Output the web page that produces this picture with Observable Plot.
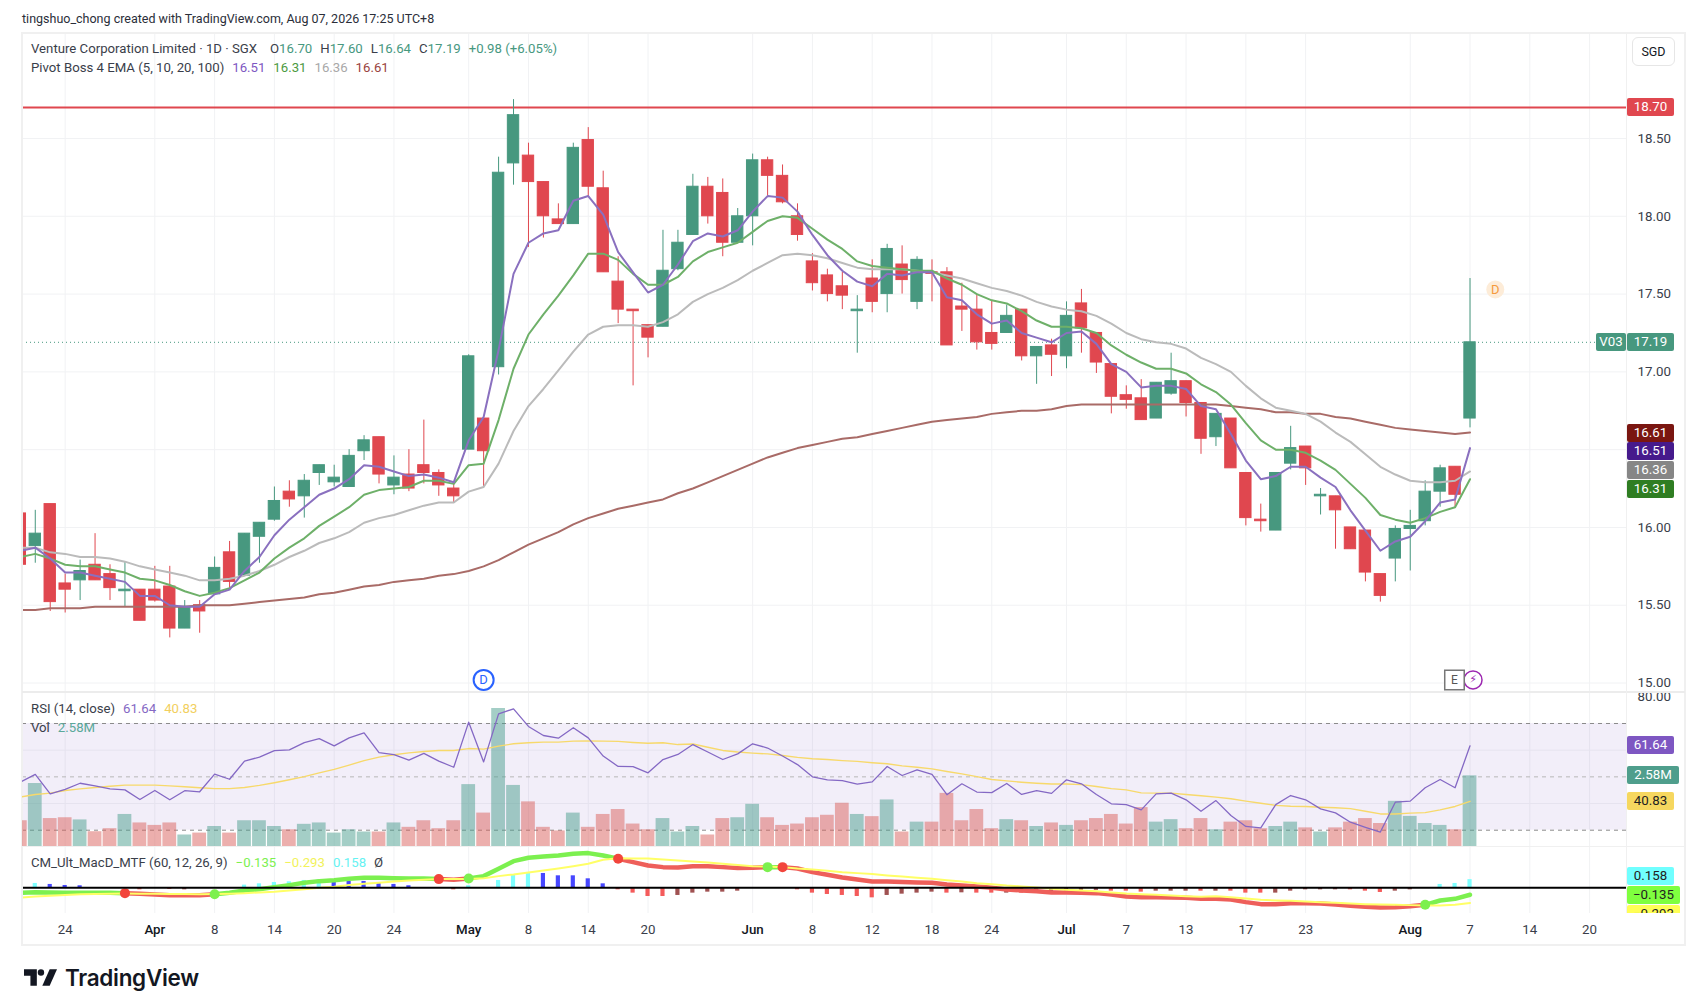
<!DOCTYPE html>
<html><head><meta charset="utf-8">
<script src="https://cdn.jsdelivr.net/npm/d3@7"></script>
<script src="https://cdn.jsdelivr.net/npm/@observablehq/plot@0.6"></script>
<style>
html,body{margin:0;background:#fff;}
#stage{position:relative;width:1708px;height:1006px;overflow:hidden;font-family:Roboto,sans-serif;color:#131722;}
#stage > svg{position:absolute;left:0;overflow:visible;}
.abs{position:absolute;white-space:nowrap;}
.leg{font-size:13.2px;line-height:16px;color:#3a3e4a;}
.leg span{margin-left:8px;}
.leg span.n{margin-left:0;}
.leg span.o{margin-left:13px;}
.tag{position:absolute;text-align:center;font-size:13.3px;line-height:18px;height:18px;border-radius:2px;}
</style></head><body><div id="stage"></div>
<script>
const opens=[16.09,15.88,16.15,15.64,15.66,15.76,15.70,15.59,15.60,15.60,15.62,15.35,15.50,15.57,15.84,15.69,15.94,16.05,16.23,16.20,16.35,16.29,16.26,16.49,16.58,16.27,16.34,16.40,16.35,16.25,16.50,16.70,17.03,18.34,18.39,18.22,17.98,17.95,18.49,18.18,17.58,17.40,17.30,17.29,17.66,17.88,18.19,18.15,17.83,18.00,18.36,18.26,18.00,17.71,17.62,17.55,17.39,17.60,17.50,17.69,17.45,17.64,17.64,17.42,17.40,17.25,17.25,17.40,17.10,17.17,17.10,17.44,17.25,17.05,16.85,16.83,16.70,16.86,16.94,16.80,16.58,16.70,16.35,16.05,15.98,16.41,16.52,16.20,16.20,16.00,15.98,15.70,15.80,15.99,16.04,16.23,16.39,16.70];
const closes=[15.76,15.96,15.52,15.60,15.72,15.66,15.61,15.60,15.40,15.53,15.35,15.49,15.46,15.74,15.65,15.96,16.03,16.17,16.18,16.30,16.40,16.32,16.46,16.56,16.34,16.32,16.25,16.35,16.27,16.20,17.10,16.49,18.28,18.65,18.22,18.00,17.95,18.44,18.19,17.64,17.40,17.39,17.22,17.65,17.83,18.19,18.00,17.83,18.00,18.36,18.26,18.09,17.88,17.57,17.50,17.49,17.40,17.45,17.79,17.59,17.72,17.63,17.17,17.40,17.19,17.18,17.36,17.10,17.16,17.11,17.36,17.28,17.06,16.84,16.82,16.69,16.93,16.94,16.80,16.57,16.73,16.38,16.06,16.04,16.35,16.51,16.38,16.21,16.11,15.86,15.71,15.56,15.99,16.01,16.23,16.38,16.21,17.19];
const highs=[16.09,16.11,16.15,15.70,15.79,15.96,15.76,15.78,15.60,15.75,15.75,15.53,15.53,15.81,15.91,15.96,16.03,16.26,16.30,16.34,16.40,16.40,16.50,16.59,16.58,16.46,16.50,16.69,16.37,16.28,17.11,16.70,18.38,18.75,18.47,18.22,18.08,18.47,18.57,18.29,17.74,17.40,17.30,17.91,17.91,18.27,18.25,18.24,18.05,18.40,18.38,18.33,18.08,17.76,17.66,17.64,17.49,17.72,17.82,17.81,17.74,17.72,17.67,17.57,17.50,17.46,17.43,17.40,17.16,17.21,17.45,17.53,17.25,17.05,16.91,16.95,16.93,17.12,16.94,16.80,16.73,16.70,16.35,16.15,16.35,16.65,16.52,16.25,16.20,16.00,15.98,15.70,16.01,16.11,16.30,16.40,16.39,17.60];
const lows=[15.76,15.77,15.46,15.45,15.53,15.66,15.53,15.49,15.40,15.52,15.29,15.35,15.32,15.57,15.61,15.69,15.77,16.04,16.13,16.06,16.27,16.26,16.26,16.43,16.28,16.21,16.23,16.28,16.20,16.16,16.50,16.26,16.98,18.20,17.80,17.86,17.95,17.95,18.12,17.64,17.31,16.91,17.09,17.29,17.65,17.88,17.95,17.74,17.83,17.81,18.13,18.08,17.84,17.52,17.45,17.40,17.12,17.38,17.38,17.50,17.40,17.45,17.17,17.26,17.14,17.14,17.25,17.07,16.92,16.97,17.02,17.12,16.99,16.73,16.76,16.69,16.70,16.85,16.71,16.47,16.52,16.38,16.01,15.97,15.98,16.37,16.27,16.08,15.86,15.86,15.65,15.52,15.65,15.72,16.01,16.13,16.13,16.64];
const ema5=[15.85,15.87,15.80,15.71,15.71,15.69,15.67,15.65,15.56,15.56,15.50,15.49,15.49,15.57,15.60,15.72,15.81,15.95,16.05,16.13,16.21,16.25,16.31,16.40,16.39,16.36,16.33,16.34,16.32,16.29,16.56,16.71,17.14,17.63,17.83,17.89,17.91,18.10,18.13,18.01,17.77,17.64,17.51,17.56,17.69,17.84,17.89,17.87,17.91,18.03,18.13,18.12,18.03,17.88,17.75,17.65,17.58,17.55,17.63,17.62,17.64,17.64,17.48,17.46,17.37,17.31,17.33,17.25,17.22,17.19,17.25,17.26,17.18,17.05,17.00,16.90,16.91,16.91,16.89,16.78,16.76,16.60,16.43,16.31,16.33,16.39,16.39,16.32,16.26,16.11,15.98,15.85,15.91,15.94,16.04,16.16,16.18,16.51];
const ema10=[15.81,15.83,15.80,15.76,15.75,15.75,15.73,15.71,15.67,15.66,15.63,15.59,15.56,15.58,15.61,15.66,15.71,15.80,15.87,15.93,16.01,16.07,16.13,16.21,16.24,16.25,16.26,16.30,16.30,16.28,16.40,16.41,16.69,17.02,17.24,17.37,17.49,17.62,17.76,17.76,17.72,17.63,17.56,17.56,17.61,17.71,17.77,17.80,17.83,17.90,17.97,18.00,17.99,17.92,17.85,17.79,17.71,17.68,17.67,17.66,17.65,17.65,17.60,17.56,17.50,17.46,17.44,17.39,17.33,17.29,17.29,17.28,17.25,17.17,17.11,17.06,17.02,17.02,16.99,16.92,16.87,16.79,16.67,16.56,16.50,16.50,16.48,16.43,16.37,16.28,16.19,16.08,16.05,16.03,16.06,16.10,16.13,16.31];
const ema20=[15.87,15.87,15.84,15.83,15.81,15.81,15.80,15.78,15.75,15.73,15.71,15.69,15.66,15.66,15.67,15.69,15.72,15.76,15.81,15.85,15.90,15.93,15.97,16.03,16.06,16.08,16.11,16.14,16.16,16.16,16.23,16.26,16.41,16.62,16.78,16.89,17.01,17.13,17.24,17.29,17.30,17.30,17.29,17.32,17.37,17.45,17.50,17.54,17.59,17.65,17.70,17.75,17.76,17.75,17.73,17.70,17.67,17.66,17.66,17.66,17.65,17.64,17.62,17.60,17.57,17.54,17.52,17.49,17.45,17.42,17.40,17.39,17.36,17.31,17.25,17.21,17.19,17.18,17.15,17.09,17.05,17.00,16.91,16.83,16.77,16.75,16.73,16.68,16.61,16.55,16.47,16.39,16.34,16.30,16.29,16.29,16.30,16.36];
const ema100=[15.47,15.47,15.48,15.48,15.48,15.49,15.49,15.49,15.49,15.49,15.49,15.49,15.50,15.50,15.50,15.51,15.52,15.53,15.54,15.55,15.57,15.58,15.60,15.62,15.63,15.65,15.66,15.67,15.69,15.70,15.72,15.75,15.79,15.84,15.89,15.93,15.97,16.02,16.06,16.09,16.12,16.14,16.16,16.18,16.22,16.25,16.29,16.33,16.37,16.41,16.45,16.48,16.51,16.53,16.55,16.57,16.58,16.60,16.62,16.64,16.66,16.68,16.69,16.70,16.71,16.73,16.74,16.75,16.75,16.76,16.78,16.79,16.79,16.79,16.79,16.79,16.79,16.79,16.79,16.79,16.79,16.78,16.77,16.76,16.74,16.74,16.73,16.73,16.71,16.70,16.68,16.66,16.64,16.63,16.62,16.61,16.60,16.61];
const rsi=[48,50.9,43.6,45.3,47.6,46.6,45.5,45.1,41.5,44.9,41.4,44.8,44.4,51,49.1,55.9,57.4,59.8,60.1,62.8,64.3,61.6,64.6,66.5,59.1,58.3,56.3,58.8,55.9,53.6,70.5,55.6,73.6,75.5,68.9,65.5,64.5,68.4,64.6,57.8,53.9,53.8,51.5,56.5,58.4,62.1,59.3,56.5,58.6,62.4,60.8,57.8,54.6,50,48.9,48.6,47.3,48.1,53.9,50.5,52.6,50.9,43.3,47.4,44.3,44.1,47.5,43.4,44.8,43.8,48.9,47.4,43.4,39.9,39.6,37.6,43.6,43.9,41.4,37.1,41.1,35.5,31.4,30.9,39.6,43,41.4,38,36.5,33,31.1,29.3,40.5,40.9,45.9,49,45.9,61.64];
const rsiMa=[42.4,43.4,43.9,44.9,45.5,46,46.5,46.9,46.9,46.9,46.6,46.3,45.9,45.6,45.6,46,46.8,47.8,48.9,50.1,51.5,52.8,54.4,56.1,57.4,58.3,59,59.5,59.9,59.9,60.6,60.4,61.5,62.4,62.8,63,63,63.4,63.5,63.4,63.3,62.9,62.6,62.8,62.1,62.3,61.1,59.9,59.3,58.9,58.6,58,57.3,56.8,56.5,56.1,55.8,55.3,54.9,54.1,53.6,53,52,51.1,50.1,49,48.5,48,47.6,47.3,47.3,47.1,46.4,45.6,45.1,44,43.9,43.9,43.4,42.9,42.4,41.8,40.9,40.1,39.3,39,38.9,38.6,38.4,38.1,37.1,36.1,36.1,36.4,36.6,37.6,38.9,40.83];
const volume=[0.94,2.30,1.02,1.05,0.97,0.54,0.65,1.17,0.86,0.77,0.86,0.42,0.49,0.73,0.49,0.94,0.94,0.73,0.61,0.81,0.86,0.49,0.61,0.53,0.53,0.86,0.70,0.94,0.65,0.94,2.26,1.22,5.04,2.23,1.63,0.70,0.57,1.22,0.70,1.17,1.35,0.82,0.61,1.02,0.53,0.73,0.42,1.02,1.05,1.54,1.05,0.77,0.82,1.05,1.14,1.58,1.17,1.09,1.70,0.53,0.89,0.89,1.94,0.94,1.35,0.65,0.98,0.94,0.73,0.86,0.77,0.94,1.02,1.17,0.82,1.42,0.89,0.98,0.65,1.02,0.61,0.89,0.94,0.65,0.73,0.89,0.68,0.53,0.68,0.89,1.02,0.84,1.65,1.10,0.84,0.77,0.61,2.58];
const macd=[-.097,-.084,-.09,-.097,-.097,-.097,-.097,-.103,-.116,-.129,-.142,-.142,-.142,-.123,-.097,-.052,-.026,.013,.052,.097,.129,.148,.174,.194,.194,.187,.181,.181,.168,.155,.181,.226,.368,.516,.581,.606,.626,.658,.671,.626,.561,.497,.432,.4,.394,.419,.419,.4,.381,.387,.4,.4,.374,.303,.252,.2,.161,.123,.123,.11,.103,.097,.065,.045,.026,0,-.032,-.052,-.065,-.09,-.09,-.097,-.103,-.129,-.168,-.181,-.181,-.187,-.194,-.213,-.213,-.226,-.277,-.316,-.316,-.297,-.297,-.303,-.323,-.348,-.368,-.381,-.374,-.355,-.329,-.245,-.213,-.135];
const signal=[-.19,-.17,-.155,-.14,-.125,-.12,-.115,-.112,-.113,-.115,-.118,-.122,-.123,-.122,-.115,-.103,-.09,-.077,-.052,-.026,0,.019,.052,.077,.097,.123,.142,.155,.168,.168,.168,.187,.226,.258,.297,.335,.374,.419,.465,.542,.574,.568,.568,.548,.529,.51,.49,.465,.439,.419,.413,.4,.374,.355,.329,.303,.284,.265,.239,.219,.194,.174,.148,.123,.09,.071,.045,.026,.006,-.019,-.039,-.052,-.065,-.09,-.11,-.123,-.135,-.148,-.161,-.174,-.161,-.181,-.206,-.232,-.245,-.252,-.265,-.277,-.29,-.303,-.316,-.323,-.329,-.335,-.342,-.342,-.329,-.293];
const hist=[0,.084,.065,.045,.039,0,0,0,-.039,0,-.032,-.039,0,0,0,.052,.077,.103,.116,.142,.155,.123,.123,.123,.084,.065,.039,0,0,-.039,.039,0,.142,.252,.297,.277,.232,.232,.174,.077,-.039,-.103,-.168,-.168,-.148,-.103,-.084,-.084,-.065,0,0,0,-.039,-.103,-.129,-.148,-.168,-.194,-.148,-.123,-.103,-.084,-.103,-.097,-.103,-.103,-.103,-.103,-.11,-.09,-.065,-.05,-.05,-.065,-.065,-.084,-.065,-.065,-.065,-.065,-.065,-.065,-.103,-.103,-.103,-.065,-.039,-.039,-.039,-.039,-.065,-.09,-.065,-.039,0,.065,.084,.158];
const histKind="xcbbbxxxrxrmxxxccccccbbbbbbxxrcxcccbbbbbrrrrmmmmmxxxrrrrrrmmmmrmrrmrmmmmmrrrmmmrmrrrmmmmmrrrmmxccc";
const macdRuns=[[0,"g"],[7,"r"],[13,"g"],[28,"r"],[30,"g"],[40,"r"],[50,"g"],[51,"r"],[94,"g"]];
const macdDotsRed=[7,28,40,51];
const macdDotsGreen=[13,30,50,94];
const tickIdx=[3,13,17,21,25,34,38,42,53,57,61,65,74,78,82,86,97,101,105];
const tickLbl=["24","8","14","20","24","8","14","20","8","12","18","24","7","13","17","23","7","14","20"];
const monthIdx=[9,30,49,70,93];
const monthLbl=["Apr","May","Jun","Jul","Aug"];
const priceTicks=[15,15.5,16,16.5,17,17.5,18,18.5];
const GREEN="#47987f",RED="#e0474f";
const CURSOR=[...tickIdx,...monthIdx];
if(![closes,highs,lows,ema5,ema10,ema20,ema100,rsi,rsiMa,volume,macd,signal,hist].every(a=>a.length===opens.length)||histKind.length!==opens.length)
  throw new Error("len "+[opens,closes,highs,lows,ema5,ema10,ema20,ema100,rsi,rsiMa,volume,macd,signal,hist].map(a=>a.length)+" "+histKind.length);
const rows=opens.map((o,i)=>({i,o,c:closes[i],h:highs[i],l:lows[i],col:closes[i]>=o?GREEN:RED,
  vol:volume[i],volCol:closes[i]>=o?"#4a9e8e":"#d9605c",rsi:rsi[i],rsiMa:rsiMa[i],macd:macd[i],signal:signal[i],hist:hist[i],
  hCol:{c:"#7dffff",b:"#4747ff",r:"#f45b5b",m:"#a05252",x:"none"}[histKind[i]],
  mCol:macdRuns.filter(r=>r[0]<=i).pop()[1]==="g"?"#7cf04f":"#ee5f5a",
  e5:ema5[i],e10:ema10[i],e20:ema20[i],e100:ema100[i]}));
const stage=document.getElementById("stage");
const D0=.145,D1=107.47;
const F={type:"linear",domain:[D0,D1],range:[22,1626],axis:null};
const base={width:1708,marginLeft:22,marginRight:82,marginTop:0,marginBottom:0,x:F,color:{type:"identity"},
  style:{background:"transparent",fontFamily:"Roboto,sans-serif",fontSize:"13px",color:"#131722"}};
const vgrid=Plot.ruleX(CURSOR,{stroke:"#f1f2f4"});
function add(p,top){p.style.top=top+"px";stage.appendChild(p);return p;}
function line(k,s,w){return Plot.line(rows,{x:"i",y:k,stroke:s,strokeWidth:w,clip:true,curve:"linear"});}

const TOP_M=33,TOP_R=692,TOP_D=846;
const main=add(Plot.plot({...base,height:659,y:{domain:[14.939,19.175],axis:null},marks:[
  vgrid,Plot.ruleY(priceTicks,{stroke:"#f1f2f4"}),
  Plot.ruleY([17.19],{stroke:GREEN,strokeDasharray:"1 3",strokeWidth:1}),
  Plot.ruleY([18.70],{stroke:"#e0474f",strokeWidth:2}),
  Plot.ruleX(rows,{x:"i",y1:"l",y2:"h",stroke:"col",strokeWidth:1,clip:true}),
  Plot.rect(rows,{x1:d=>d.i-.38,x2:d=>d.i+.38,y1:"o",y2:"c",fill:"col",stroke:"col",strokeWidth:1,clip:true}),
  line("e100","#a96b67",2),line("e20","#bbbbbb",2),line("e10","#6eb069",2),line("e5","#8a70bf",2),
  Plot.dot([{i:31,y:15.02}],{x:"i",y:"y",r:10,stroke:"#2962ff",strokeWidth:2,fill:"#fff"}),
  Plot.text([{i:31,y:15.02}],{x:"i",y:"y",text:()=>"D",fill:"#2962ff",fontSize:13}),
  Plot.dot([{i:98.69,y:17.53}],{x:"i",y:"y",r:9,fill:"#fdecd8"}),
  Plot.text([{i:98.69,y:17.53}],{x:"i",y:"y",text:()=>"D",fill:"#f59a3c",fontSize:13}),
  Plot.dot([{i:97.2,y:15.02}],{x:"i",y:"y",r:9,fill:"#fff",stroke:"#9c27b0",strokeWidth:1.5}),
  Plot.text([{i:97.2,y:15.02}],{x:"i",y:"y",text:()=>"⚡",fill:"#9c27b0",fontSize:11,fontFamily:"DejaVu Sans"}),
  Plot.dot([{i:95.96,y:15.02}],{x:"i",y:"y",r:11,symbol:"square",fill:"#fff",stroke:"#777",strokeWidth:1.5}),
  Plot.text([{i:95.96,y:15.02}],{x:"i",y:"y",text:()=>"E",fill:"#555",fontSize:12}),
  Plot.axisY(priceTicks,{anchor:"right",tickSize:0,tickPadding:11,tickFormat:d3.format(".2f"),label:null,fill:"#3a3e4a",fontSize:13.3})
]}),TOP_M);

const volP=add(Plot.plot({...base,height:154,marginTop:16,y:{domain:[0,5.04],axis:null},marks:[
  Plot.rectY(rows,{x1:d=>d.i-.46,x2:d=>d.i+.46,y1:0,y2:"vol",fill:"volCol",fillOpacity:.5,clip:true})
]}),TOP_R);
volP.style.zIndex=2;
const rsiP=add(Plot.plot({...base,height:154,y:{domain:[23.89,81.62],axis:null},marks:[
  vgrid,Plot.rect([{a:D0,b:D1}],{x1:"a",x2:"b",y1:30,y2:70,fill:"#7e57c2",fillOpacity:.1}),
  Plot.ruleY([40,60],{stroke:"#e6e3ef"}),
  Plot.ruleY([30,70],{stroke:"#8a8a8a",strokeDasharray:"4 4"}),
  Plot.ruleY([50],{stroke:"#b8b8b8",strokeDasharray:"4 4"}),
  Plot.axisY([80],{anchor:"right",tickSize:0,tickPadding:11,tickFormat:d3.format(".2f"),label:null,fill:"#3a3e4a",fontSize:13.3})
]}),TOP_R);
const rsiL=add(Plot.plot({...base,height:154,y:{domain:[23.89,81.62],axis:null},marks:[
  line("rsiMa","#f7d96b",1.4),line("rsi","#8468c4",1.3)
]}),TOP_R);
rsiL.style.zIndex=3;

const macdP=add(Plot.plot({...base,height:98,marginBottom:31,y:{domain:[-.497,.799],axis:null},marks:[
  vgrid,
  Plot.rectY(rows.filter(d=>d.hCol!=="none"),{x1:d=>d.i-.14,x2:d=>d.i+.14,y1:0,y2:"hist",fill:"hCol"}),
  Plot.line(rows,{x:"i",y:"macd",stroke:"mCol",z:null,strokeWidth:4.5,clip:true}),
  line("signal","#ffff66",2),
  Plot.dot(macdDotsRed,{x:d=>d,y:d=>macd[d],r:5,fill:"#f2453c"}),
  Plot.dot(macdDotsGreen,{x:d=>d,y:d=>macd[d],r:5,fill:"#7cf04f"}),
  Plot.ruleY([0],{stroke:"#000",strokeWidth:2}),
  Plot.axisX(tickIdx,{tickSize:0,tickPadding:11,tickFormat:d=>tickLbl[tickIdx.indexOf(d)],label:null,fill:"#3a3e4a",fontSize:13.3}),
  Plot.axisX(monthIdx,{tickSize:0,tickPadding:11,tickFormat:d=>monthLbl[monthIdx.indexOf(d)],label:null,fill:"#131722",fontSize:13.3,fontWeight:500})
]}),TOP_D);

function div(css,html,cls){const d=document.createElement("div");d.className=cls||"abs";d.style.cssText=css;d.innerHTML=html;stage.appendChild(d);return d;}
// frame and pane borders
div(`left:21px;top:32px;width:1665px;height:914px;border:2px solid #f0f0f0;box-sizing:border-box`,"");
div(`left:22px;top:691px;width:1663px;height:2px;background:#ececec`,"");
div(`left:1626px;top:33px;width:1px;height:880px;background:#f0f0f0`,"");
div(`left:22px;top:846px;width:1663px;height:1px;background:#f0f0f0`,"");
// texts
const s=(c,t,n)=>`<span ${n?'class="n"':""} style="color:${c}">${t}</span>`;
div(`left:22px;top:11px;font-size:12.5px;line-height:16px;color:#2a2e39`,"tingshuo_chong created with TradingView.com, Aug 07, 2026 17:25 UTC+8");
div(`left:31px;top:41px`,`Venture Corporation Limited · 1D · SGX<span class="o">O</span>${s(GREEN,"16.70",1)}<span>H</span>${s(GREEN,"17.60",1)}<span>L</span>${s(GREEN,"16.64",1)}<span>C</span>${s(GREEN,"17.19",1)}${s(GREEN,"+0.98 (+6.05%)")}`).classList.add("leg");
div(`left:31px;top:60px`,`Pivot Boss 4 EMA (5, 10, 20, 100)${s("#7e57c2","16.51")}${s("#4c9a3f","16.31")}${s("#a8a8a8","16.36")}${s("#9a4440","16.61")}`).classList.add("leg");
div(`left:31px;top:701px;z-index:5`,`RSI (14, close)${s("#8468c4","61.64")}${s("#f2cf5e","40.83")}`).classList.add("leg");
div(`left:31px;top:720px;z-index:5`,`Vol${s("#5aa99a","2.58M")}`).classList.add("leg");
div(`left:31px;top:855px;z-index:5`,`CM_Ult_MacD_MTF (60, 12, 26, 9)${s("#7cf04f","−0.135")}${s("#f2f25a","−0.293")}${s("#66f2f2","0.158")}${s("#3a3e4a","Ø")}`).classList.add("leg");
div(`left:1632px;top:37px;width:41px;height:27px;border:1px solid #e6e6e6;border-radius:6px;text-align:center;font-size:12.5px;line-height:27px;background:#fff`,"SGD");
// last-value tags
function tag(y,text,bg,fg,w,left,parent){const d=document.createElement("div");d.className="tag";
  d.style.cssText=`left:${left||1627}px;top:${y-9}px;width:${w||47}px;background:${bg};color:${fg||"#fff"};z-index:6`;d.textContent=text;(parent||stage).appendChild(d);return d;}
const yM=v=>TOP_M+main.scale("y").apply(v),yR=v=>TOP_R+rsiP.scale("y").apply(v),yV=v=>TOP_R+volP.scale("y").apply(v),yD=v=>macdP.scale("y").apply(v);
tag(yM(18.70),"18.70","#e0474f");
tag(yM(17.19),"17.19",GREEN);
tag(yM(17.19),"V03",GREEN,"#fff",30,1596);
tag(yM(16.606),"16.61","#7a1611");
tag(yM(16.485),"16.51","#461a8c");
tag(yM(16.363),"16.36","#868686");
tag(yM(16.244),"16.31","#2f7d22");
tag(yR(61.64),"61.64","#7e57c2");
tag(yV(2.58),"2.58M","#4f9e8c","#fff",52);
tag(yR(40.83),"40.83","#f6d75f","#222");
const clipBox=div(`left:1627px;top:${TOP_D}px;width:58px;height:67px;overflow:hidden;z-index:6`,"");
tag(yD(.219),"0.158","#70ffff","#222",47,0,clipBox).style.left="0";
tag(yD(-.516),"−0.293","#ffff55","#222",53,0,clipBox).style.left="0";
tag(yD(-.143),"−0.135","#7fff3f","#222",53,0,clipBox).style.left="0";
// logo
div(`left:24px;top:969px;width:33px;height:17px`,`<svg width="33" height="17" viewBox="0 0 36 18" style="display:block"><path d="M0 0h14v18H7V7H0z" fill="#131722"/><circle cx="18.5" cy="3.5" r="3.5" fill="#131722"/><path d="M28 0h8l-8 18h-8z" fill="#131722"/></svg>`);
div(`left:65px;top:963px;font-family:Inter,sans-serif;font-weight:600;font-size:22.5px;line-height:30px;color:#131722;letter-spacing:-.3px`,"TradingView");
</script></body></html>
